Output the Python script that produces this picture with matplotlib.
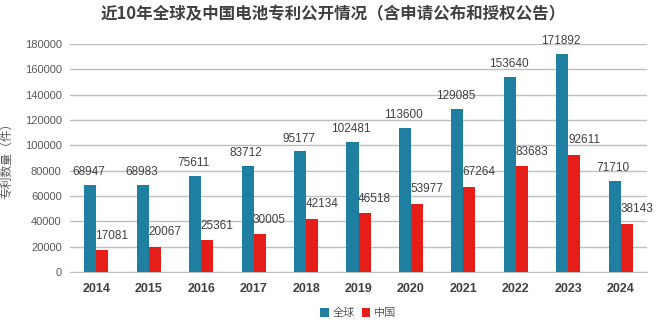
import matplotlib
matplotlib.use("Agg")
import matplotlib.pyplot as plt
import numpy as np
from matplotlib.transforms import offset_copy

years = ["2014", "2015", "2016", "2017", "2018", "2019", "2020", "2021", "2022", "2023", "2024"]
global_counts = [68947, 68983, 75611, 83712, 95177, 102481, 113600, 129085, 153640, 171892, 71710]
china_counts = [17081, 20067, 25361, 30005, 42134, 46518, 53977, 67264, 83683, 92611, 38143]
series_names = ["全球", "中国"]
y_ticks = [0, 20000, 40000, 60000, 80000, 100000, 120000, 140000, 160000, 180000]

BLUE = "#1F7FA0"
RED = "#E61E1A"
CJK = ["Noto Sans CJK SC", "DejaVu Sans"]
NUM = ["Liberation Sans", "DejaVu Sans"]

fig = plt.figure(figsize=(6.67, 3.36), dpi=100)
ax = fig.add_axes([0.105, 0.1905, 0.865, 0.6785])

x = np.arange(len(years))
w = 0.23
b1 = ax.bar(x - w / 2, global_counts, w, color=BLUE, label=series_names[0], zorder=3)
b2 = ax.bar(x + w / 2, china_counts, w, color=RED, label=series_names[1], zorder=3)

ax.set_xlim(-0.5, len(years) - 0.5)
ax.set_ylim(0, 180000)
ax.set_yticks(y_ticks)
ax.set_yticklabels([str(v) for v in y_ticks], family=NUM, fontsize=8, color="#595959")
ax.set_xticks(x)
ax.set_xticklabels(years, family=NUM, fontsize=9, fontweight="bold", color="#404040")
ax.tick_params(axis="both", length=0)
ax.tick_params(axis="x", pad=8)
ax.tick_params(axis="y", pad=6)
ax.grid(axis="y", color="#BFBFBF", linewidth=1, zorder=0)
for s in ["top", "right", "left"]:
    ax.spines[s].set_visible(False)
ax.spines["bottom"].set_color("#BFBFBF")
ax.spines["bottom"].set_zorder(1)

for xi, v in zip(x, global_counts):
    tr = offset_copy(ax.transData, fig=fig, x=-1, y=5, units="points")
    ax.text(xi - w / 2, v, str(v), transform=tr, ha="center", va="bottom",
            family=NUM, fontsize=8.5, color="#404040", zorder=4)
for xi, v in zip(x, china_counts):
    tr = offset_copy(ax.transData, fig=fig, x=7, y=6, units="points")
    ax.text(xi + w / 2, v, str(v), transform=tr, ha="center", va="bottom",
            family=NUM, fontsize=8.5, color="#404040", zorder=4)

ax.set_ylabel("专利数量（件）", family=CJK, fontsize=8.5, color="#595959", labelpad=8)

fig.suptitle("近10年全球及中国电池专利公开情况（含申请公布和授权公告）",
             family=CJK, fontsize=11.9, fontweight="bold", color="#404040", y=0.985)

fig.legend(handles=[b1, b2], labels=series_names, loc="center", bbox_to_anchor=(0.537, 0.068),
           ncol=2, frameon=False, prop={"family": CJK, "size": 8},
           handlelength=0.8, handleheight=0.8, handletextpad=0.3, columnspacing=0.6,
           labelcolor="#595959")

fig.savefig("out.png", dpi=100)
